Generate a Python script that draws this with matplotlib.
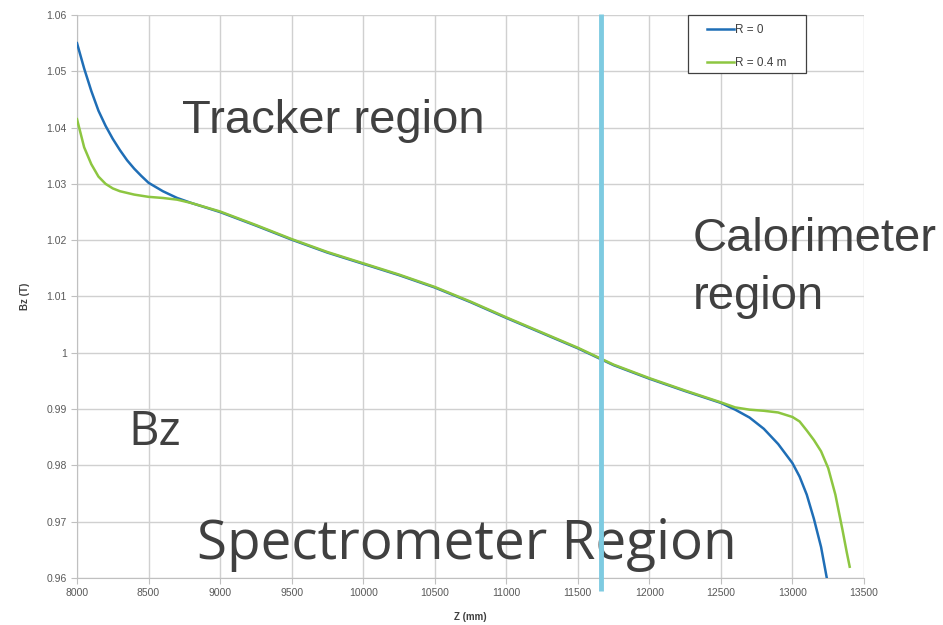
import matplotlib
matplotlib.use("Agg")
import matplotlib.pyplot as plt
from matplotlib.ticker import MultipleLocator, FuncFormatter
from matplotlib.patches import Rectangle

# ---- data ----
z_r0 = [8000, 8050, 8100, 8150, 8200, 8250, 8300, 8350, 8400, 8450, 8500, 8600, 8700, 8800,
        9000, 9250, 9500, 9750, 10000, 10250, 10500, 10750, 11000, 11250, 11500, 11750,
        12000, 12250, 12500, 12600, 12700, 12800, 12900, 13000, 13050, 13100, 13150, 13200, 13240]
bz_r0 = [1.0550, 1.0505, 1.0465, 1.0430, 1.0403, 1.0380, 1.0360, 1.0342, 1.0327, 1.0314, 1.0302,
         1.0287, 1.0275, 1.0266, 1.0250, 1.0226, 1.0201, 1.0178, 1.0158, 1.0138, 1.0116, 1.0090,
         1.0062, 1.0035, 1.0008, 0.9978, 0.9954, 0.9932, 0.9911, 0.9899, 0.9885, 0.9865, 0.9838,
         0.9804, 0.9780, 0.9748, 0.9705, 0.9655, 0.9600]

z_r04 = [8000, 8025, 8050, 8100, 8150, 8200, 8250, 8300, 8400, 8500, 8600, 8700, 8800,
         9000, 9250, 9500, 9750, 10000, 10250, 10500, 10750, 11000, 11250, 11500, 11750,
         12000, 12250, 12500, 12600, 12700, 12800, 12900, 13000, 13050, 13100, 13150, 13200,
         13250, 13300, 13350, 13380, 13400]
bz_r04 = [1.0415, 1.0390, 1.0365, 1.0335, 1.0313, 1.0300, 1.0292, 1.0287, 1.0281, 1.0277, 1.0275,
          1.0272, 1.0266, 1.0251, 1.0227, 1.0202, 1.0179, 1.0159, 1.0139, 1.0117, 1.0091, 1.0063,
          1.0036, 1.0009, 0.9979, 0.9955, 0.9933, 0.9912, 0.9903, 0.9899, 0.9897, 0.9894, 0.9886,
          0.9878, 0.9862, 0.9845, 0.9825, 0.9795, 0.9748, 0.9685, 0.9645, 0.9620]

series_labels = ["R = 0", "R = 0.4 m"]
boundary_z = 11660
x_ticks = [8000, 8500, 9000, 9500, 10000, 10500, 11000, 11500, 12000, 12500, 13000, 13500]

fig = plt.figure(figsize=(9.43, 6.25), dpi=100)
ax = fig.add_axes([77/943, 1-578/625, (864-77)/943, (578-15)/625])

ax.set_xlim(8000, 13500)
ax.set_ylim(0.96, 1.06)
ax.set_xticks(x_ticks)
ax.yaxis.set_major_locator(MultipleLocator(0.01))
ax.yaxis.set_major_formatter(FuncFormatter(lambda v, p: ("%.2f" % v).rstrip("0").rstrip(".")))
ax.grid(True, color="#d0d0d0", linewidth=1.0)
ax.set_axisbelow(True)
for s in ["top", "right"]:
    ax.spines[s].set_visible(False)
for s in ["left", "bottom"]:
    ax.spines[s].set_color("#c0c0c0")
ax.tick_params(axis="both", colors="#c0c0c0", labelcolor="#595959", labelsize=7.5, length=4)

tick_font = "Liberation Sans"
for lab in ax.get_xticklabels() + ax.get_yticklabels():
    lab.set_family(tick_font)

ax.plot(z_r0, bz_r0, color="#1f6eb6", lw=1.8, label=series_labels[0], zorder=3)
ax.plot(z_r04, bz_r04, color="#8dc641", lw=1.8, label=series_labels[1], zorder=3)

ax.set_xlabel("Z (mm)", fontsize=7, fontweight="bold", color="#404040", family=tick_font, labelpad=10)
ax.set_ylabel("Bz (T)", fontsize=7, fontweight="bold", color="#404040", family=tick_font, labelpad=12)

# legend box drawn separately
box = Rectangle((688/943, 1-73/625), (806-688)/943, (73-15)/625,
                transform=fig.transFigure, facecolor="white",
                edgecolor="#404040", linewidth=0.9, zorder=6, clip_on=False)
ax.add_patch(box)
leg = ax.legend(loc="upper left", bbox_to_anchor=(707/943, 1-24/625), bbox_transform=fig.transFigure,
                frameon=False, labelspacing=1.75, handlelength=2.3, handletextpad=0.05,
                borderpad=0, borderaxespad=0, prop={"family": tick_font, "size": 8.5})
leg.set_zorder(7)
for t in leg.get_texts():
    t.set_color("#404040")

txt_col = "#404040"
ax.text(333/943, 1-121/625, "Tracker region", transform=fig.transFigure, fontsize=34,
        family="Liberation Sans", color=txt_col, ha="center", va="center", zorder=2)
ax.text(693/943, 1-268/625, "Calorimeter\nregion", transform=fig.transFigure, fontsize=34,
        family="Liberation Sans", color=txt_col, ha="left", va="center", linespacing=1.4, zorder=2)
ax.text(155/943, 1-432/625, "Bz", transform=fig.transFigure, fontsize=34,
        family="Open Sans", color=txt_col, ha="center", va="center", zorder=2)
ax.text(467/943, 1-544/625, "Spectrometer Region", transform=fig.transFigure, fontsize=39.5,
        family="Open Sans", color=txt_col, ha="center", va="center", zorder=2)

ax.plot([boundary_z, boundary_z], [1.0602, 0.9577], color="#7ecbe1", lw=3.5, zorder=5,
        clip_on=False, solid_capstyle="butt")

fig.savefig("out.png", dpi=100)
